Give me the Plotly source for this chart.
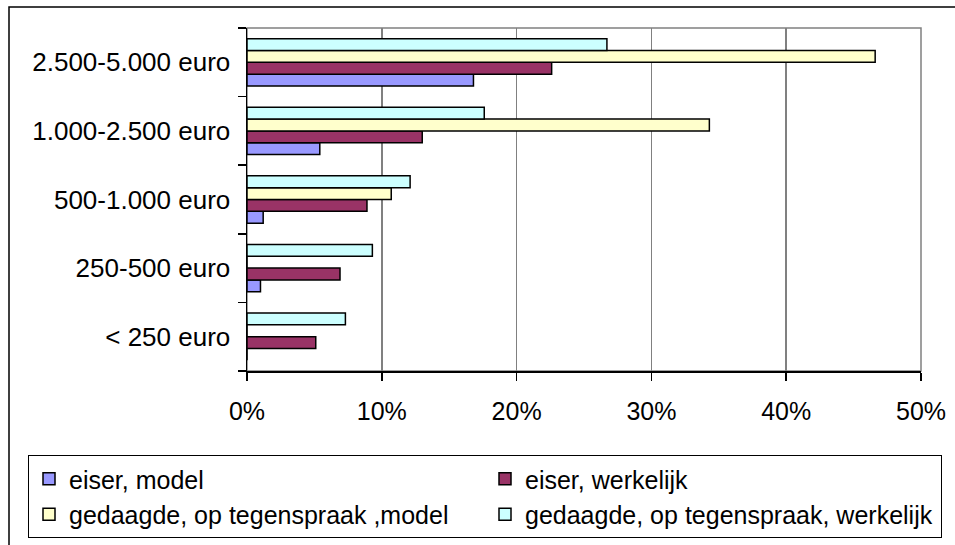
import plotly.graph_objects as go

categories = ["< 250 euro", "250-500 euro", "500-1.000 euro", "1.000-2.500 euro", "2.500-5.000 euro"]
series_names = ["eiser, model", "eiser, werkelijk",
                "gedaagde, op tegenspraak ,model", "gedaagde, op tegenspraak, werkelijk"]
eiser_model = [0.0, 1.0, 1.2, 5.4, 16.8]
eiser_werkelijk = [5.1, 6.9, 8.9, 13.0, 22.6]
gedaagde_model = [0.0, 0.0, 10.7, 34.3, 46.6]
gedaagde_werkelijk = [7.3, 9.3, 12.1, 17.6, 26.7]
x_tick_vals = [0, 10, 20, 30, 40, 50]
x_tick_text = ["0%", "10%", "20%", "30%", "40%", "50%"]

colors = ["#9999FF", "#993366", "#FFFFCC", "#CCFFFF"]
values = [eiser_model, eiser_werkelijk, gedaagde_model, gedaagde_werkelijk]

W, H = 955, 545
L, R, T, B = 247, 921, 28, 371
pw, ph = R - L, B - T

fig = go.Figure()
for name, vals, col in zip(series_names, values, colors):
    fig.add_trace(go.Bar(
        y=categories, x=vals, name=name, orientation="h",
        marker=dict(color=col, line=dict(color="black", width=1.5)),
    ))

FONT = "Liberation Sans, Arial, sans-serif"
FS = 25

def px(xc):
    return (xc - L) / pw

def py(yc):
    return (B - yc) / ph

shapes = [
    dict(type="rect", xref="paper", yref="paper", x0=0, x1=1, y0=0, y1=1,
         line=dict(color="#808080", width=1.5), layer="below"),
    dict(type="rect", xref="paper", yref="paper", x0=px(9), x1=px(990), y0=py(590), y1=py(7),
         line=dict(color="black", width=1.5), layer="below"),
]

fig.update_layout(
    width=W, height=H,
    margin=dict(l=L, r=W - R, t=T, b=H - B, autoexpand=False),
    paper_bgcolor="white", plot_bgcolor="white",
    barmode="group", bargap=0.31, bargroupgap=0,
    font=dict(family=FONT, size=FS, color="black"),
    showlegend=True,
    legend=dict(
        orientation="h", xref="paper", yref="paper",
        x=px(28), xanchor="left", y=py(455), yanchor="top",
        entrywidth=411, entrywidthmode="pixels",
        bordercolor="black", borderwidth=1, bgcolor="white",
        font=dict(family=FONT, size=FS, color="black"),
        traceorder="normal", itemclick=False,
    ),
    shapes=shapes,
    xaxis=dict(
        range=[0, 50], tickvals=x_tick_vals, ticktext=x_tick_text,
        showgrid=True, gridcolor="#808080", gridwidth=1.5,
        showline=True, linecolor="black", linewidth=1.5,
        ticks="outside", ticklen=8, tickcolor="black", tickwidth=1.5,
        ticklabelstandoff=9, zeroline=False, fixedrange=True,
        tickfont=dict(size=25),
    ),
    yaxis=dict(
        categoryorder="array", categoryarray=categories,
        range=[-0.5, 4.5], tickson="boundaries",
        showgrid=False, showline=True, linecolor="black", linewidth=1.5,
        ticks="outside", ticklen=8, tickcolor="black", tickwidth=1.5,
        ticklabelstandoff=10, fixedrange=True,
        tickfont=dict(size=26),
    ),
)

fig.write_html(
    "out.html",
    config={"displayModeBar": False, "staticPlot": True},
    post_script="document.body.style.margin='0px';document.body.style.overflow='hidden';",
)
